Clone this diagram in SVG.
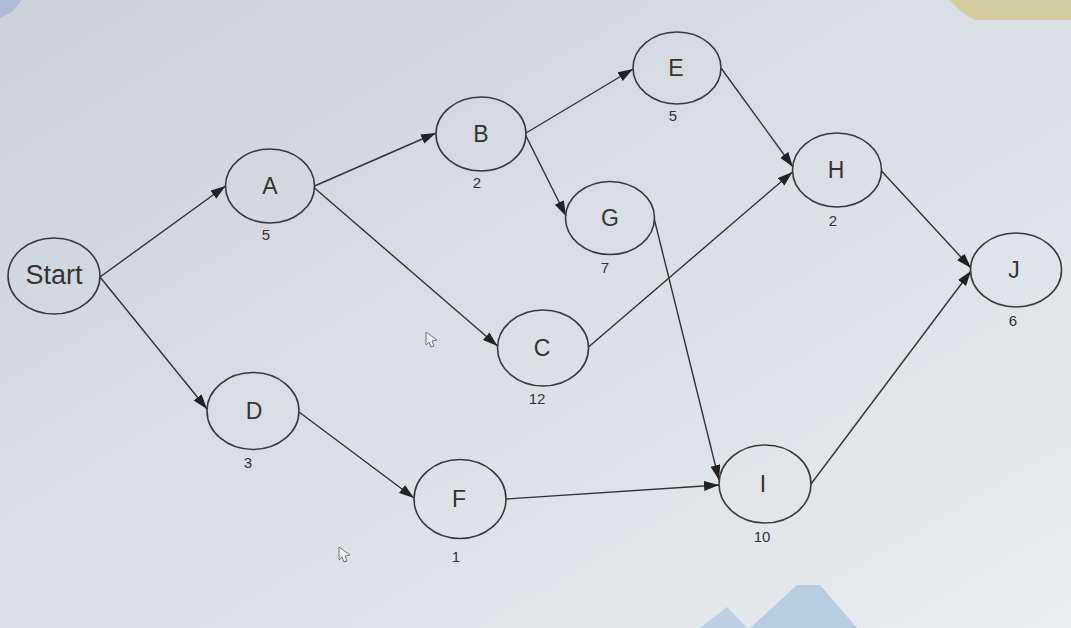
<svg xmlns="http://www.w3.org/2000/svg" width="1071" height="628" viewBox="0 0 1071 628">
  <defs>
    <linearGradient id="bg" x1="0" y1="0" x2="1" y2="1">
      <stop offset="0" stop-color="#cad1d8"/>
      <stop offset="0.45" stop-color="#d8dee3"/>
      <stop offset="1" stop-color="#e8ecee"/>
    </linearGradient>
    <marker id="arr" markerUnits="userSpaceOnUse" markerWidth="16" markerHeight="12" refX="15" refY="5" orient="auto">
      <path d="M0,0 L15,5 L0,10 Z" fill="#222"/>
    </marker>
    <style>
      .node ellipse { fill: none; stroke: #3a3a3a; stroke-width: 1.6; }
      .lbl { font-family: "Liberation Sans", Arial, sans-serif; font-size: 23px; fill: #333; text-anchor: middle; }
      .num { font-family: "Liberation Sans", Arial, sans-serif; font-size: 15px; fill: #333; text-anchor: middle; }
      .edges line { stroke: #333; stroke-width: 1.4; marker-end: url(#arr); }
      .cursor { fill: #eef0f2; stroke: #777; stroke-width: 1; }
    </style>
  </defs>
  <rect x="0" y="0" width="1071" height="628" fill="url(#bg)"/>
  <path d="M950,0 L1071,0 L1071,20 L975,20 Q962,14 950,0 Z" fill="#d2cc9f"/>
  <path d="M0,0 L22,0 L12,12 L0,18 Z" fill="#aebbd6"/>
  <path d="M750,628 L797,585 L820,585 L857,628 Z" fill="#b9cde0"/>
  <path d="M700,628 L727,607 L747,628 Z" fill="#bed0e1"/>

  <g class="edges" id="connectors">
    <line x1="100" y1="277" x2="225.5" y2="186"/>
    <line x1="100" y1="277" x2="207" y2="409"/>
    <line x1="314.5" y1="186" x2="436" y2="133"/>
    <line x1="314.5" y1="188" x2="497.5" y2="346"/>
    <line x1="526" y1="133" x2="633" y2="69"/>
    <line x1="526" y1="136" x2="566" y2="216"/>
    <line x1="721" y1="68" x2="793" y2="167"/>
    <line x1="654.5" y1="220" x2="719" y2="480"/>
    <line x1="588.5" y1="347" x2="792.5" y2="172"/>
    <line x1="881.5" y1="171" x2="971" y2="268"/>
    <line x1="299" y1="412" x2="414" y2="498"/>
    <line x1="506" y1="499" x2="719" y2="485"/>
    <line x1="811" y1="484" x2="971" y2="271"/>
  </g>

  <g class="node" id="node-start">
    <ellipse cx="54" cy="276" rx="46" ry="38"/>
    <text class="lbl" x="54" y="284" style="font-size:27px">Start</text>
  </g>
  <g class="node" id="node-a">
    <ellipse cx="270" cy="186" rx="44.5" ry="37"/>
    <text class="lbl" x="270" y="194">A</text>
    <text class="num" x="266" y="240">5</text>
  </g>
  <g class="node" id="node-b">
    <ellipse cx="481" cy="134" rx="45" ry="37"/>
    <text class="lbl" x="481" y="142">B</text>
    <text class="num" x="477" y="188">2</text>
  </g>
  <g class="node" id="node-e">
    <ellipse cx="677" cy="68" rx="44" ry="36"/>
    <text class="lbl" x="676" y="76">E</text>
    <text class="num" x="673" y="121">5</text>
  </g>
  <g class="node" id="node-g">
    <ellipse cx="610" cy="218" rx="44.5" ry="36.5"/>
    <text class="lbl" x="610" y="226">G</text>
    <text class="num" x="605" y="273">7</text>
  </g>
  <g class="node" id="node-h">
    <ellipse cx="837" cy="170" rx="44.5" ry="37"/>
    <text class="lbl" x="836" y="178">H</text>
    <text class="num" x="833" y="226">2</text>
  </g>
  <g class="node" id="node-j">
    <ellipse cx="1016" cy="270" rx="45.5" ry="37"/>
    <text class="lbl" x="1014" y="278">J</text>
    <text class="num" x="1013" y="326">6</text>
  </g>
  <g class="node" id="node-c">
    <ellipse cx="543" cy="348" rx="45.5" ry="38"/>
    <text class="lbl" x="542" y="356">C</text>
    <text class="num" x="537" y="404">12</text>
  </g>
  <g class="node" id="node-d">
    <ellipse cx="253" cy="411" rx="46" ry="38.5"/>
    <text class="lbl" x="254" y="419">D</text>
    <text class="num" x="248" y="468">3</text>
  </g>
  <g class="node" id="node-f">
    <ellipse cx="460" cy="499" rx="46" ry="39.5"/>
    <text class="lbl" x="459" y="507">F</text>
    <text class="num" x="456" y="562">1</text>
  </g>
  <g class="node" id="node-i">
    <ellipse cx="765" cy="484" rx="46" ry="39"/>
    <text class="lbl" x="763" y="492">I</text>
    <text class="num" x="762" y="542">10</text>
  </g>

  <path class="cursor" d="M426,332 L437,340 L432,341 L434,346 L431,347 L429,342 L426,345 Z"/>
  <path class="cursor" d="M339,547 L350,555 L345,556 L347,561 L344,562 L342,557 L339,560 Z"/>
</svg>
